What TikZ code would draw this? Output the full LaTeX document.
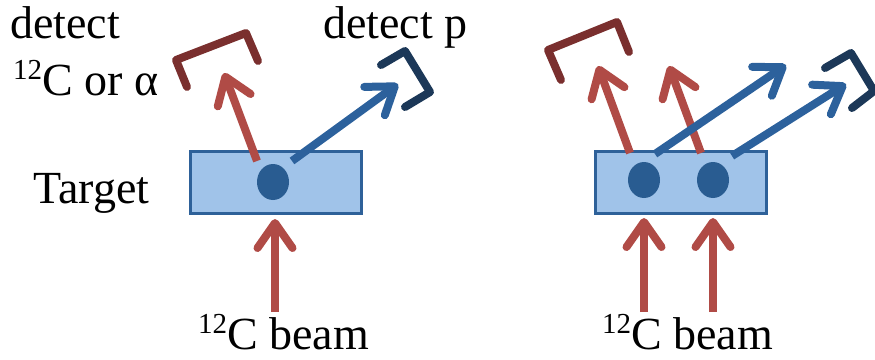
\documentclass[tikz,border=0pt]{standalone}
\usepackage{fontspec}
\setmainfont{Liberation Serif}
\usetikzlibrary{arrows.meta,shapes.geometric}

\definecolor{rayred}{HTML}{B04B46}
\definecolor{rayblue}{HTML}{2C619C}
\definecolor{detred}{HTML}{7A2F2E}
\definecolor{detblue}{HTML}{1C3858}
\definecolor{tgtfill}{HTML}{A0C3E9}
\definecolor{tgtline}{HTML}{2E6199}
\definecolor{nucleus}{HTML}{295C91}

% mass number set as a raised prefix
\newcommand\massno[1]{\raisebox{16pt}{\fontsize{29}{29}\selectfont #1}}

\tikzset{
  lbl/.style={anchor=base west, inner sep=0pt, font=\fontsize{46}{50}\selectfont},
  target/.style={draw=tgtline, fill=tgtfill, line width=3pt, inner sep=0pt,
    minimum width=171pt, minimum height=62pt},
  nuc/.style={ellipse, fill=nucleus, inner sep=0pt, minimum width=32pt, minimum height=36pt},
  ray/.style={line width=8pt, -{Straight Barb[length=25pt,width=35pt,round]}},
  redray/.style={ray, draw=rayred},
  blueray/.style={ray, draw=rayblue},
  detector/.style={line width=8pt, line cap=round, line join=round}
}

\begin{document}
\begin{tikzpicture}[x=1pt,y=-1pt]
\useasboundingbox (0,0) rectangle (875,359);

% ---------- single nucleus ----------
\node[target] (tgtL) at (276,182.5) {};
\node[nuc] (nL) at (273,182) {};

\coordinate (beamL0) at (275,312);
\coordinate (beamL1) at (275,219);
\draw[redray] (beamL0) -- (beamL1);

\coordinate (outLr0) at (257,161);
\coordinate (outLr1) at (224,73);
\draw[redray] (outLr0) -- (outLr1);

\coordinate (outLb0) at (292,161);
\coordinate (outLb1) at (398,84);
\draw[blueray] (outLb0) -- (outLb1);

\draw[detector, detred] (187,87) coordinate (dLr) -- (176,60) -- (246,33) -- (258,61);
\draw[detector, detblue] (381,65) coordinate (dLb) -- (405,51) -- (430,92) -- (405,107);

\node[lbl] (tDetA) at (10,38) {detect};
\node[lbl] (tDetB) at (13,95) {\massno{12}C or α};
\node[lbl] (tDetP) at (323,38) {detect p};
\node[lbl] (tTarget) at (33,203) {Target};
\node[lbl] (tBeamL) at (198,349) {\massno{12}C beam};

% ---------- two nuclei ----------
\node[target] (tgtR) at (680.5,182.5) {};
\node[nuc] (nR1) at (644,180) {};
\node[nuc] (nR2) at (713,180) {};

\coordinate (beamR10) at (644,312);
\coordinate (beamR11) at (644,218);
\draw[redray] (beamR10) -- (beamR11);
\coordinate (beamR20) at (713,312);
\coordinate (beamR21) at (713,218);
\draw[redray] (beamR20) -- (beamR21);

\coordinate (outR1r0) at (630,153);
\coordinate (outR1r1) at (598,66);
\draw[redray] (outR1r0) -- (outR1r1);
\coordinate (outR2r0) at (701,153);
\coordinate (outR2r1) at (669,66);
\draw[redray] (outR2r0) -- (outR2r1);

\coordinate (outR1b0) at (655,154);
\coordinate (outR1b1) at (786,65);
\draw[blueray] (outR1b0) -- (outR1b1);
\coordinate (outR2b0) at (732,156);
\coordinate (outR2b1) at (846,84);
\draw[blueray] (outR2b0) -- (outR2b1);

\draw[detector, detred] (561,80) coordinate (dRr) -- (548,50) -- (617,22) -- (629,52);
\draw[detector, detblue] (825,68) coordinate (dRb) -- (851,53) -- (874,91) -- (852,108);

\node[lbl] (tBeamR) at (602,349) {\massno{12}C beam};
\end{tikzpicture}
\end{document}
